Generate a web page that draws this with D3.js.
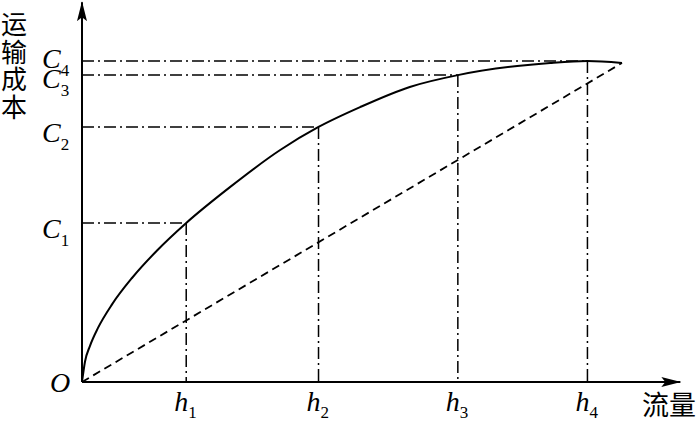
<!DOCTYPE html>
<html>
<head>
<meta charset="utf-8">
<script src="https://cdn.jsdelivr.net/npm/d3@7"></script>
<style>
  html, body { margin: 0; padding: 0; background: #fff; }
  svg { display: block; }
</style>
</head>
<body>
<svg id="chart" width="700" height="422"></svg>
<script>
// ---- data ----
const flowLevels = [19.3, 43.8, 69.6, 93.6];          // h1..h4
const costLevels = [49.7, 79.7, 95.9, 100.3];         // C1..C4
const hLabels = ["1", "2", "3", "4"];
const cLabels = ["1", "2", "3", "4"];
const curveX = [0, 0.56, 1.48, 2.96, 5.56, 9.26, 13.9, 19.3, 27.4, 36.7, 43.8, 51.5, 60.7, 69.6, 80.6, 86.7, 93.6, 100];
const curveY = [0, 6.4, 11.3, 16.9, 24.25, 32.5, 41.1, 49.7, 60.9, 72.5, 79.7, 85.9, 92.2, 95.9, 98.75, 99.7, 100.3, 99.7];
const lineX = [0, 100];
const lineY = [0, 99.7];
const yTitle = ["运", "输", "成", "本"];
const xTitle = "流量";
const originLabel = "O";

// ---- drawing ----
const svg = d3.select("#chart");
const x = d3.scaleLinear().domain([0, 100]).range([82, 622]);
const y = d3.scaleLinear().domain([0, 100]).range([382, 62]);
const xMax = 110.8, yMax = 118.7;

const serif = "'Liberation Serif', 'DejaVu Serif', serif";

// arrow markers
const defs = svg.append("defs");
defs.append("marker").attr("id", "arr").attr("viewBox", "0 0 20 10")
  .attr("refX", 19).attr("refY", 5).attr("markerWidth", 20).attr("markerHeight", 10)
  .attr("markerUnits", "userSpaceOnUse").attr("orient", "auto")
  .append("path").attr("d", "M0,0 L20,5 L0,10 L4,5 Z").attr("fill", "#000");

// dash-dot guide lines
const dashDot = "12,4,2,4";
flowLevels.forEach((h, i) => {
  const c = costLevels[i];
  svg.append("line")
    .attr("x1", x(0)).attr("y1", y(c)).attr("x2", x(h)).attr("y2", y(c))
    .attr("stroke", "#000").attr("stroke-width", 1.5).attr("stroke-dasharray", dashDot);
  svg.append("line")
    .attr("x1", x(h)).attr("y1", y(c)).attr("x2", x(h)).attr("y2", y(0))
    .attr("stroke", "#000").attr("stroke-width", 1.5).attr("stroke-dasharray", dashDot);
});

// dashed straight line
svg.append("line")
  .attr("x1", x(lineX[0])).attr("y1", y(lineY[0]))
  .attr("x2", x(lineX[1])).attr("y2", y(lineY[1]))
  .attr("stroke", "#000").attr("stroke-width", 1.8).attr("stroke-dasharray", "8,5");

// curve
const pts = curveX.map((v, i) => [v, curveY[i]]);
svg.append("path")
  .datum(pts)
  .attr("d", d3.line().x(d => x(d[0])).y(d => y(d[1])).curve(d3.curveMonotoneX))
  .attr("fill", "none").attr("stroke", "#000").attr("stroke-width", 2);

// axes
svg.append("line")
  .attr("x1", x(0)).attr("y1", y(0)).attr("x2", x(xMax)).attr("y2", y(0))
  .attr("stroke", "#000").attr("stroke-width", 2).attr("marker-end", "url(#arr)");
svg.append("line")
  .attr("x1", x(0)).attr("y1", y(0)).attr("x2", x(0)).attr("y2", y(yMax))
  .attr("stroke", "#000").attr("stroke-width", 2).attr("marker-end", "url(#arr)");

// C labels
const cDy = [15, 15, 13, 7];
costLevels.forEach((c, i) => {
  const t = svg.append("text")
    .attr("x", 42).attr("y", y(c) + cDy[i])
    .attr("font-family", serif).attr("font-size", 28).attr("fill", "#000");
  t.append("tspan").attr("font-style", "italic").text("C");
  t.append("tspan").attr("font-size", 17).attr("dy", 8).text(cLabels[i]);
});

// h labels
flowLevels.forEach((h, i) => {
  const t = svg.append("text")
    .attr("x", x(h) - 12).attr("y", 411)
    .attr("font-family", serif).attr("font-size", 28).attr("fill", "#000");
  t.append("tspan").attr("font-style", "italic").text("h");
  t.append("tspan").attr("font-size", 17).attr("dy", 7).text(hLabels[i]);
});

// origin
svg.append("text").attr("x", 50).attr("y", 392)
  .attr("font-family", serif).attr("font-size", 28).attr("font-style", "italic")
  .text(originLabel);

// axis titles
const cjk = "'Noto Sans CJK SC', sans-serif";
yTitle.forEach((ch, i) => {
  svg.append("text").attr("x", 1).attr("y", 34 + i * 27.5)
    .attr("font-family", cjk).attr("font-size", 26).attr("font-weight", 400)
    .text(ch);
});
svg.append("text").attr("x", 642).attr("y", 415)
  .attr("font-family", cjk).attr("font-size", 27).attr("font-weight", 400)
  .text(xTitle);
</script>
</body>
</html>
